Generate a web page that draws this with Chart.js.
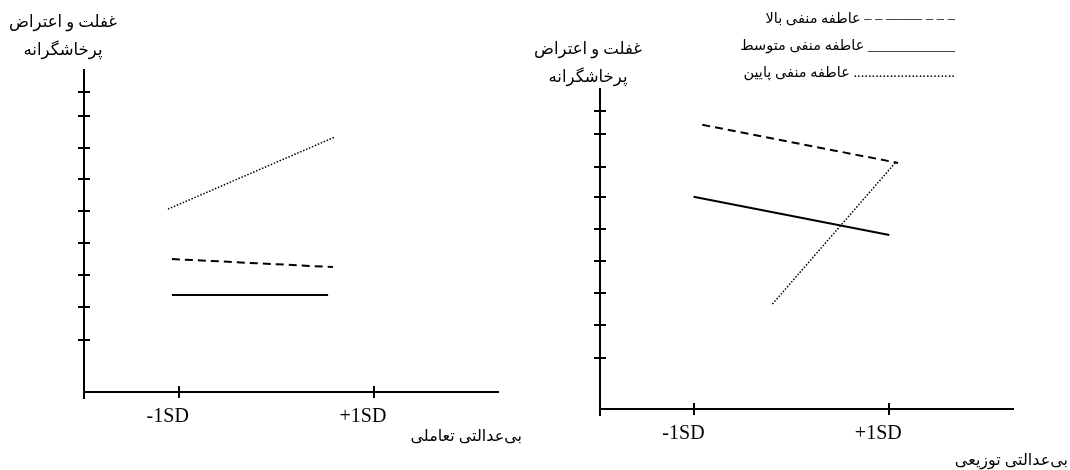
<!DOCTYPE html>
<html lang="fa" dir="ltr">
<head>
<meta charset="utf-8">
<script src="https://cdn.jsdelivr.net/npm/chart.js@4.4.1/dist/chart.umd.min.js"></script>
<style>
    html, body { margin: 0; padding: 0; background: #fff; }
    #wrap { position: relative; width: 1070px; height: 470px; overflow: hidden;
            font-family: "Liberation Serif", "DejaVu Sans", serif; color: #000; }
    canvas { position: absolute; top: 0; direction: ltr; }
    #cl { left: 0; }
    #cr { left: 535px; }
    .txt { position: absolute; white-space: nowrap; font-size: 16.5px; }
    .ytitle { text-align: center; line-height: 28px; transform: translateX(-50%); direction: rtl; }
    .legend { direction: rtl; text-align: right; line-height: 27px; font-size: 14.5px; }
    .xtitle { direction: rtl; line-height: 20px; font-size: 16px; }
</style>
</head>
<body>
<div id="wrap">
    <canvas id="cl" width="535" height="470" dir="ltr"></canvas>
    <canvas id="cr" width="535" height="470" dir="ltr"></canvas>

    <div class="txt ytitle" style="left:63px; top:8px;">غفلت و اعتراض<br>پرخاشگرانه</div>
    <div class="txt ytitle" style="left:588px; top:35px;">غفلت و اعتراض<br>پرخاشگرانه</div>

    <div class="txt legend" style="right:115px; top:5px;">
        – – – ––––– – – عاطفه منفی بالا<br>
        ____________ عاطفه منفی متوسط<br>
        ............................ عاطفه منفی پایین
    </div>

    <div class="txt xtitle" style="right:548px; top:426px;">بی‌عدالتی تعاملی</div>
    <div class="txt xtitle" style="right:2px; top:450px;">بی‌عدالتی توزیعی</div>
</div>

<script>
// ============================================
// DATA
// ============================================

const xTickValues = [-1, 1];
const xTickLabels = ['-1SD', '+1SD'];
const yTickValues = [1.6, 2.63, 3.62, 4.63, 5.62, 6.62, 7.57, 8.58, 9.32];

// left panel - بی‌عدالتی تعاملی
const leftHighX = [-1.07, 0.58];
const leftHighY = [4.13, 3.88];
const leftMidX = [-1.07, 0.53];
const leftMidY = [3.01, 3.01];
const leftLowX = [-1.11, 0.60];
const leftLowY = [5.68, 7.92];

// right panel - بی‌عدالتی توزیعی
const rightHighX = [-0.92, 1.09];
const rightHighY = [8.88, 7.69];
const rightMidX = [-1.01, 1.00];
const rightMidY = [6.63, 5.44];
const rightLowX = [-0.20, 1.06];
const rightLowY = [3.28, 7.69];

// ============================================
// HELPERS
// ============================================

function toPoints(xs, ys) {
    return xs.map((x, i) => ({ x: x, y: ys[i] }));
}

// ticks that cross the axis lines, plus the short stub of the y axis below the x axis
const crossTicks = {
    id: 'crossTicks',
    beforeDraw(chart) {
        chart.ctx.direction = 'ltr';
    },
    afterDraw(chart) {
        const { ctx, chartArea, scales } = chart;
        ctx.save();
        ctx.strokeStyle = '#000';
        ctx.lineWidth = 2;
        ctx.beginPath();
        yTickValues.forEach(v => {
            const py = Math.round(scales.y.getPixelForValue(v));
            ctx.moveTo(chartArea.left - 6, py);
            ctx.lineTo(chartArea.left + 6, py);
        });
        xTickValues.forEach(v => {
            const px = Math.round(scales.x.getPixelForValue(v));
            ctx.moveTo(px, chartArea.bottom - 6);
            ctx.lineTo(px, chartArea.bottom + 6);
        });
        ctx.moveTo(chartArea.left, chartArea.bottom);
        ctx.lineTo(chartArea.left, chartArea.bottom + 7);
        ctx.stroke();
        ctx.restore();
    }
};

function makePanel(id, series, box) {
    return new Chart(document.getElementById(id), {
        type: 'line',
        data: {
            datasets: [
                { label: 'عاطفه منفی بالا', data: series.high, borderColor: '#000',
                  borderWidth: 2, borderDash: [8, 5] },
                { label: 'عاطفه منفی متوسط', data: series.mid, borderColor: '#000',
                  borderWidth: 2 },
                { label: 'عاطفه منفی پایین', data: series.low, borderColor: '#000',
                  borderWidth: 1.5, borderDash: [1.5, 1.7] }
            ]
        },
        options: {
            responsive: false,
            animation: false,
            devicePixelRatio: 1,
            elements: { point: { radius: 0 }, line: { tension: 0 } },
            layout: { padding: { left: 0, top: box.top, right: 535 - box.right, bottom: 0 } },
            plugins: { legend: { display: false }, tooltip: { enabled: false } },
            scales: {
                x: {
                    type: 'linear',
                    min: -1.97,
                    max: 2.27,
                    afterBuildTicks: s => { s.ticks = xTickValues.map(v => ({ value: v })); },
                    afterFit: s => { s.height = 470 - box.bottom; },
                    grid: { display: false, drawTicks: false },
                    border: { display: true, color: '#000', width: 2 },
                    ticks: {
                        autoSkip: false,
                        maxRotation: 0,
                        padding: 13,
                        labelOffset: -11,
                        color: '#000',
                        font: { family: 'Liberation Serif', size: 20 },
                        callback: v => xTickLabels[xTickValues.indexOf(v)]
                    }
                },
                y: {
                    type: 'linear',
                    min: 0,
                    max: 10,
                    afterFit: s => { s.width = box.left; },
                    grid: { display: false, drawTicks: false },
                    border: { display: true, color: '#000', width: 2 },
                    ticks: { display: false }
                }
            }
        },
        plugins: [crossTicks]
    });
}

makePanel('cl', {
    high: toPoints(leftHighX, leftHighY),
    mid: toPoints(leftMidX, leftMidY),
    low: toPoints(leftLowX, leftLowY)
}, { left: 84, right: 498, top: 70, bottom: 392 });

makePanel('cr', {
    high: toPoints(rightHighX, rightHighY),
    mid: toPoints(rightMidX, rightMidY),
    low: toPoints(rightLowX, rightLowY)
}, { left: 65, right: 478, top: 89, bottom: 409 });
</script>
</body>
</html>
